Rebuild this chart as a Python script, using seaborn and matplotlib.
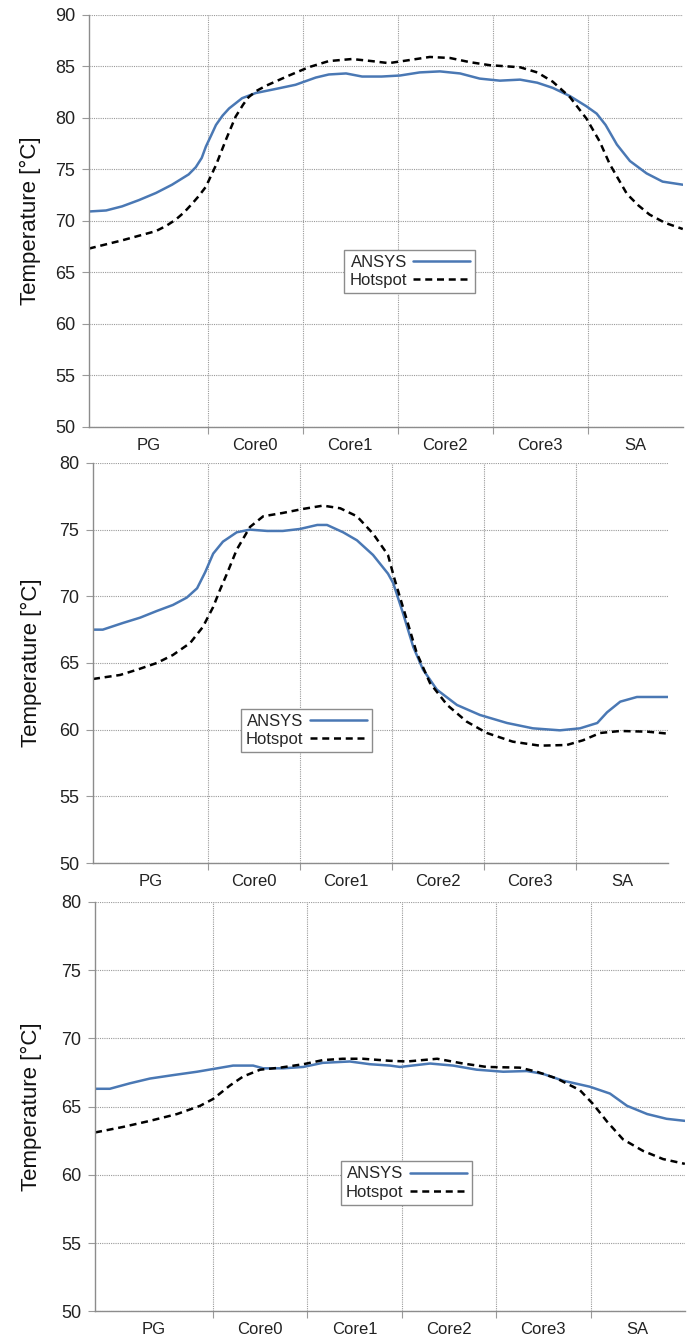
import matplotlib
matplotlib.use("Agg")
import matplotlib.pyplot as plt
import pandas as pd
import seaborn as sns

# floorplan regions along the die (mm) and their labels
regions = ["PG", "Core0", "Core1", "Core2", "Core3", "SA"]
region_edges = [0.0, 2.0, 3.6, 5.2, 6.8, 8.4, 10.0]

# --- case 1 ---
c1_ansys_x = [0.00, 0.29, 0.56, 0.84, 1.13, 1.40, 1.68, 1.80, 1.90, 1.97, 2.06, 2.14, 2.25, 2.36,
              2.58, 2.81, 3.15, 3.48, 3.82, 4.04, 4.33, 4.60, 4.93, 5.24, 5.57, 5.91, 6.25, 6.58,
              6.92, 7.26, 7.55, 7.81, 8.10, 8.38, 8.55, 8.70, 8.89, 9.11, 9.39, 9.66, 10.0]
c1_ansys_t = [70.9, 71.0, 71.4, 72.0, 72.7, 73.5, 74.5, 75.2, 76.1, 77.2, 78.3, 79.3, 80.2, 80.9,
              81.9, 82.4, 82.8, 83.2, 83.9, 84.2, 84.3, 84.0, 84.0, 84.1, 84.4, 84.5, 84.3, 83.8,
              83.6, 83.7, 83.4, 82.9, 82.1, 81.1, 80.4, 79.3, 77.4, 75.8, 74.6, 73.8, 73.5]
c1_hot_x = [0.00, 0.56, 1.13, 1.30, 1.46, 1.60, 1.73, 1.85, 1.97, 2.14, 2.31, 2.47, 2.60, 2.69,
            2.82, 2.98, 3.37, 3.70, 4.04, 4.43, 4.76, 5.05, 5.40, 5.74, 6.08, 6.41, 6.75, 7.26,
            7.55, 7.81, 8.10, 8.38, 8.60, 8.77, 9.06, 9.25, 9.44, 9.70, 10.0]
c1_hot_t = [67.3, 68.1, 69.0, 69.5, 70.1, 70.8, 71.6, 72.4, 73.3, 75.4, 77.9, 80.1, 81.3, 82.0,
            82.6, 83.1, 84.1, 84.9, 85.5, 85.7, 85.5, 85.3, 85.6, 85.9, 85.8, 85.4, 85.1, 84.9,
            84.4, 83.5, 82.0, 79.9, 77.7, 75.5, 72.6, 71.5, 70.6, 69.8, 69.2]

# --- case 2 ---
c2_ansys_x = [0.00, 0.17, 0.52, 0.82, 1.11, 1.39, 1.63, 1.81, 1.95, 2.09, 2.26, 2.50, 2.73, 3.03,
              3.30, 3.60, 3.90, 4.07, 4.35, 4.59, 4.87, 5.13, 5.22, 5.39, 5.57, 5.74, 5.98, 6.33,
              6.73, 7.20, 7.65, 8.12, 8.47, 8.77, 8.94, 9.17, 9.46, 10.0]
c2_ansys_t = [67.5, 67.5, 68.0, 68.4, 68.9, 69.35, 69.9, 70.6, 71.8, 73.2, 74.1, 74.8, 75.0, 74.9,
              74.9, 75.05, 75.35, 75.35, 74.8, 74.2, 73.1, 71.7, 71.0, 68.75, 66.2, 64.5, 63.0, 61.85,
              61.1, 60.5, 60.1, 59.95, 60.1, 60.5, 61.3, 62.1, 62.45, 62.45]
c2_hot_x = [0.00, 0.47, 0.77, 1.11, 1.39, 1.69, 1.91, 2.09, 2.21, 2.33, 2.50, 2.73, 2.96, 3.30,
            3.65, 4.00, 4.30, 4.59, 4.87, 5.13, 5.25, 5.46, 5.63, 5.86, 6.16, 6.50, 6.85, 7.30,
            7.77, 8.24, 8.52, 8.82, 9.17, 9.64, 10.0]
c2_hot_t = [63.8, 64.1, 64.5, 65.0, 65.6, 66.5, 67.7, 69.2, 70.5, 71.7, 73.5, 75.2, 76.0, 76.25,
            76.55, 76.8, 76.6, 76.0, 74.7, 73.1, 71.2, 68.2, 65.75, 63.5, 61.85, 60.6, 59.75, 59.1,
            58.8, 58.85, 59.2, 59.75, 59.9, 59.85, 59.7]

# --- case 3 ---
c3_ansys_x = [0.00, 0.25, 0.59, 0.93, 1.32, 1.73, 2.07, 2.34, 2.68, 2.85, 3.19, 3.53, 3.86, 4.32,
              4.66, 5.00, 5.17, 5.68, 6.07, 6.47, 6.92, 7.32, 7.59, 7.93, 8.39, 8.73, 9.02, 9.36,
              9.69, 10.0]
c3_ansys_t = [66.3, 66.3, 66.7, 67.05, 67.3, 67.55, 67.8, 68.0, 68.0, 67.8, 67.8, 67.9, 68.2, 68.3,
              68.1, 68.0, 67.9, 68.15, 68.0, 67.7, 67.55, 67.6, 67.4, 66.9, 66.45, 65.95, 65.05, 64.45,
              64.1, 63.95]
c3_hot_x = [0.00, 0.47, 0.93, 1.39, 1.78, 2.00, 2.29, 2.51, 2.80, 3.14, 3.53, 3.86, 4.20, 4.54,
            5.00, 5.29, 5.80, 6.24, 6.64, 7.20, 7.49, 7.83, 8.22, 8.44, 8.68, 8.95, 9.29, 9.63, 10.0]
c3_hot_t = [63.1, 63.5, 63.95, 64.45, 65.05, 65.55, 66.55, 67.2, 67.7, 67.85, 68.1, 68.4, 68.5, 68.5,
            68.35, 68.3, 68.5, 68.15, 67.9, 67.85, 67.55, 67.05, 66.2, 65.2, 63.9, 62.6, 61.75, 61.15,
            60.8]

BLUE = "#4a78b4"
GRID = "#9a9a9a"
SPINE = "#8c8c8c"
TEXT = "#222222"

sns.set_theme(style="white")
plt.rcParams["font.family"] = ["Liberation Sans", "DejaVu Sans"]


def draw_panel(ax, ansys_x, ansys_t, hot_x, hot_t, ylim, legend_pos, label_x):
    df = pd.concat([
        pd.DataFrame({"x": ansys_x, "temp": ansys_t, "model": "ANSYS"}),
        pd.DataFrame({"x": hot_x, "temp": hot_t, "model": "Hotspot"}),
    ], ignore_index=True)

    sns.lineplot(data=df, x="x", y="temp", hue="model", style="model",
                 hue_order=["ANSYS", "Hotspot"], style_order=["ANSYS", "Hotspot"],
                 palette={"ANSYS": BLUE, "Hotspot": "black"},
                 dashes={"ANSYS": "", "Hotspot": (2.8, 1.9)},
                 estimator=None, sort=False, linewidth=1.8, legend=False, ax=ax)

    ax.set_xlim(region_edges[0], region_edges[-1])
    ax.set_ylim(*ylim)
    ax.set_yticks(range(ylim[0], ylim[1] + 1, 5))

    centers = [(a + b) / 2 for a, b in zip(region_edges[:-1], region_edges[1:])]
    ax.set_xticks(region_edges[1:-1])
    ax.set_xticklabels([])
    ax.set_xticks(centers, minor=True)
    ax.set_xticklabels(regions, minor=True)
    ax.tick_params(axis="x", which="major", length=5, width=0.8, color=GRID, direction="out", bottom=True)
    ax.tick_params(axis="x", which="minor", length=0, pad=8, labelsize=12, labelcolor=TEXT)
    ax.tick_params(axis="y", length=5, width=0.8, color=GRID, direction="out", left=True,
                   pad=5, labelsize=13, labelcolor=TEXT)

    ax.grid(True, which="major", linestyle=(0, (1, 1)), color=GRID, linewidth=0.8)
    for s in ["top", "right"]:
        ax.spines[s].set_visible(False)
    for s in ["left", "bottom"]:
        ax.spines[s].set_color(SPINE)
        ax.spines[s].set_linewidth(1.0)

    ax.set_xlabel("")
    ax.set_ylabel("Temperature [°C]", fontsize=16, color="#111111")
    ax.yaxis.set_label_coords(label_x, 0.5)

    ax.legend(handles=ax.lines[:2], labels=["ANSYS", "Hotspot"], loc="lower left",
              bbox_to_anchor=legend_pos, markerfirst=False, frameon=True, fancybox=False,
              edgecolor=SPINE, framealpha=1, fontsize=12, handlelength=3.4,
              borderpad=0.3, labelspacing=0.2, handletextpad=0.4, borderaxespad=0)


fig = plt.figure(figsize=(6.89, 13.38), dpi=100)
ax1 = fig.add_axes([0.129, 0.681, 0.862, 0.308])
ax2 = fig.add_axes([0.135, 0.355, 0.8345, 0.299])
ax3 = fig.add_axes([0.138, 0.020, 0.856, 0.306])

draw_panel(ax1, c1_ansys_x, c1_ansys_t, c1_hot_x, c1_hot_t, (50, 90), (0.43, 0.325), -0.08)
draw_panel(ax2, c2_ansys_x, c2_ansys_t, c2_hot_x, c2_hot_t, (50, 80), (0.257, 0.277), -0.089)
draw_panel(ax3, c3_ansys_x, c3_ansys_t, c3_hot_x, c3_hot_t, (50, 80), (0.417, 0.26), -0.09)

fig.savefig("out.png", dpi=100)
